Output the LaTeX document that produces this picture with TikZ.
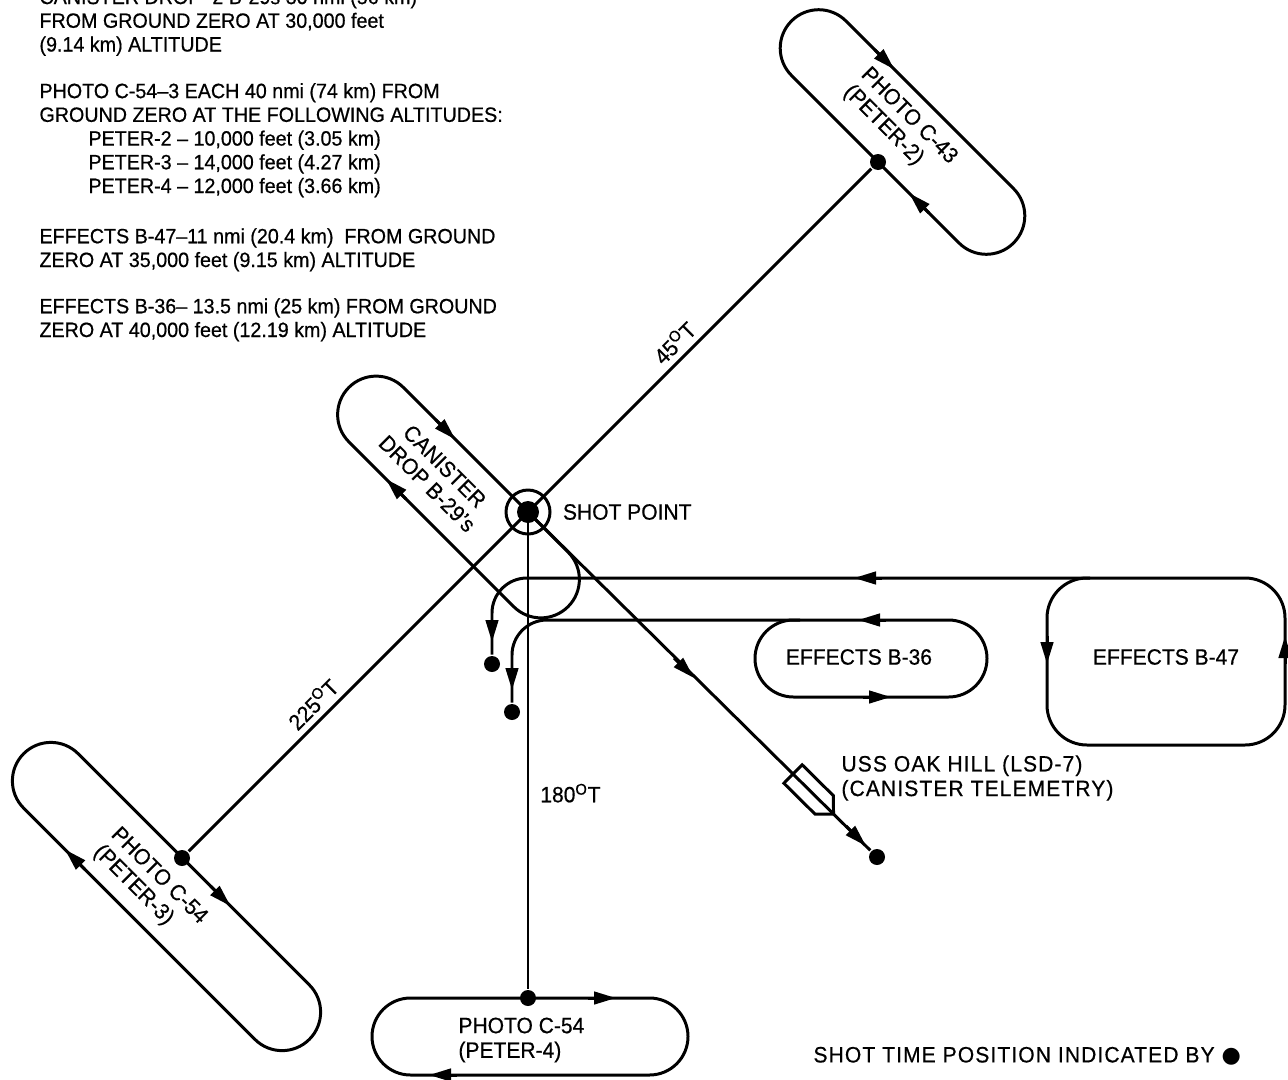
\documentclass[tikz,border=0pt]{standalone}
\usepackage{fontspec}
\setmainfont{Liberation Sans}[FakeStretch=0.95, FakeBold=0.6]
\newfontfamily\dotfont{DejaVu Sans}
\usetikzlibrary{arrows.meta,positioning}

\begin{document}
\begin{tikzpicture}[x=0.02cm, y=-0.02cm, line width=1.7pt,
  font=\fontsize{12.6}{14}\selectfont,
  trk/.style={rounded corners=0.77cm},
  flow/.style={-{Triangle[length=0.44cm,width=0.25cm]}},
  spot/.style={circle, fill, inner sep=0pt, minimum size=0.32cm},
  lbl/.style={inner sep=0pt, align=left},
  note/.style={lbl, anchor=base west, font=\fontsize{11.8}{13.5}\selectfont},
  wide/.style={font=\fontsize{12.6}{14}\selectfont\addfontfeature{LetterSpace=5}}]
\useasboundingbox (0,0) rectangle (1288,1079);

% notes
\node[note] (note1) at (38,51.5) {CANISTER DROP--2 B-29s 30 nmi (56 km)\\FROM GROUND ZERO AT 30,000 feet\\(9.14 km) ALTITUDE};
\node[note] (note2) at (38,193) {PHOTO C-54--3 EACH 40 nmi (74 km) FROM\\GROUND ZERO AT THE FOLLOWING ALTITUDES:\\\hspace*{0.98cm}PETER-2 -- 10,000 feet (3.05 km)\\\hspace*{0.98cm}PETER-3 -- 14,000 feet (4.27 km)\\\hspace*{0.98cm}PETER-4 -- 12,000 feet (3.66 km)};
\node[note] (note3) at (38,267) {EFFECTS B-47--11 nmi (20.4 km)\ \ FROM GROUND\\ZERO AT 35,000 feet (9.15 km) ALTITUDE};
\node[note] (note4) at (38,337) {EFFECTS B-36-- 13.5 nmi (25 km) FROM GROUND\\ZERO AT 40,000 feet (12.19 km) ALTITUDE};

% positions at shot time
\coordinate (shot) at (528,512);
\node[spot] (c43dot) at (878,162) {};
\node[spot] (p3dot) at (182,858) {};
\node[spot] (p4dot) at (528,998) {};
\node[spot] (b47dot) at (492,664) {};
\node[spot] (b36dot) at (512,712) {};
\node[spot] (oakdot) at (877,857) {};

% photo C-43 (Peter-2)
\begin{scope}[shift={(902.5,132)}, rotate=-45]
  \draw[trk] (-157,-38.5) rectangle (157,38.5);
  \draw[flow] (-78,-38.5) -- (-50,-38.5);
  \draw[flow] (76,38.5) -- (48,38.5);
\end{scope}

% canister drop
\begin{scope}[shift={(458.5,497)}, rotate=-45]
  \draw[trk] (-155,-38.5) rectangle (155,38.5);
  \draw[flow] (-71,-38.5) -- (-43,-38.5);
  \draw[flow] (-36,38.5) -- (-64,38.5);
\end{scope}

% photo C-54 (Peter-3)
\begin{scope}[shift={(166.5,896.5)}, rotate=-45]
  \draw[trk] (-202,-38.5) rectangle (202,38.5);
  \draw[flow] (24,-38.5) -- (52,-38.5);
  \draw[flow] (-77,38.5) -- (-105,38.5);
\end{scope}

% photo C-54 (Peter-4)
\draw[trk] (372,998) rectangle (688,1075);
\draw[flow] (588,998) -- (616,998);
\draw[flow] (457,1075) -- (429,1075);

% effects B-36
\draw[trk] (755,620) rectangle (987,697);
\draw[flow] (886,620) -- (858,620);
\draw[flow] (863,697) -- (891,697);
\draw[rounded corners=0.7cm] (800,620) -| (b36dot);
\draw[flow] (512,662) -- (512,690);

% effects B-47
\draw[rounded corners=0.8cm] (1047,578) rectangle (1285,745);
\draw[flow] (1047,636) -- (1047,664);
\draw[flow] (1285,664) -- (1285,636);
\draw[rounded corners=0.7cm] (1090,578) -| (b47dot);
\draw[flow] (882,578) -- (854,578);
\draw[flow] (492,614) -- (492,642);

% bearings from shot point
\draw (shot) -- node[sloped, above, pos=0.46] (lbl45) {45\textsuperscript{O}T} (c43dot);
\draw (shot) -- node[sloped, above, pos=0.6] (lbl225) {225\textsuperscript{O}T} (p3dot);
\draw (shot) -- node[right, pos=0.59, xshift=0.1cm] (lbl180) {180\textsuperscript{O}T} (p4dot);
\draw (shot) -- (oakdot);
\draw[flow] (674,658) -- (694,678);
\draw[flow] (846,826) -- (866,846);

% USS Oak Hill
\begin{scope}[shift={(793,774)}, rotate=-44.7]
  \draw (0,-13) -- (44,-13) -- (57,0) -- (44,13) -- (0,13) -- cycle;
\end{scope}

% shot point
\node[circle, draw, inner sep=0pt, minimum size=0.88cm] (shotring) at (shot) {};
\node[spot, minimum size=0.44cm] (shotdot) at (shot) {};
\node[lbl, right=0.2cm of shotring] (shotlbl) {SHOT POINT};

% labels
\node[lbl, rotate=-45] (c43lbl) at (900,125) {PHOTO C-43\\(PETER-2)};
\node[lbl, rotate=-45] (p3lbl) at (150,885) {PHOTO C-54\\(PETER-3)};
\node[lbl, rotate=-45, align=center] (canlbl) at (436,475) {CANISTER\\DROP B-29’s};
\node[lbl, anchor=west] (p4lbl) at (457,1040) {PHOTO C-54\\(PETER-4)};
\node[lbl] (b36lbl) at (859,657) {EFFECTS B-36};
\node[lbl] (b47lbl) at (1166,657) {EFFECTS B-47};
\node[lbl, wide, anchor=west] (oaklbl) at (840,778) {USS OAK HILL (LSD-7)\\(CANISTER TELEMETRY)};
\node[lbl, wide, anchor=west] (keylbl) at (812,1056) {SHOT TIME POSITION INDICATED BY {\dotfont ●}};
\end{tikzpicture}
\end{document}
